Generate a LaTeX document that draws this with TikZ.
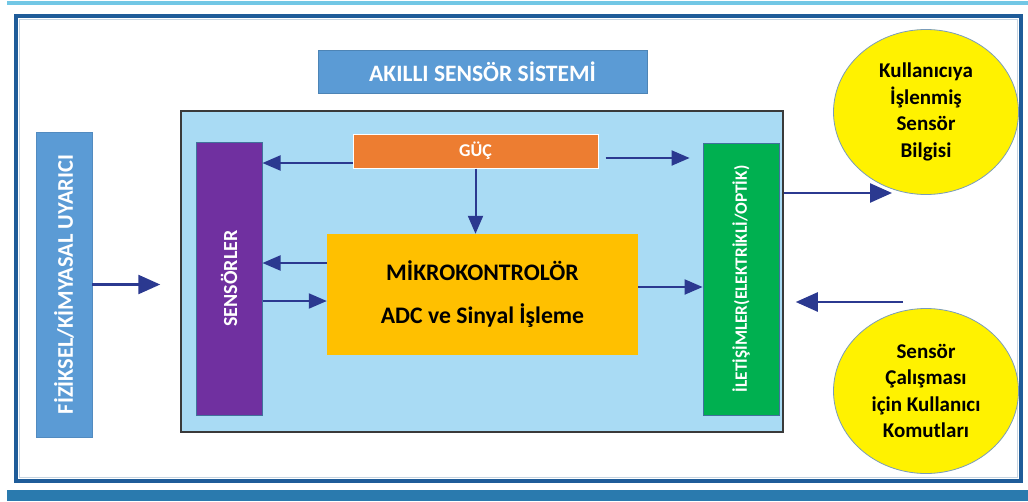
\documentclass[tikz,border=0pt]{standalone}
\usepackage{fontspec}
\setmainfont{Carlito}
\usetikzlibrary{arrows.meta,shapes.geometric}
\definecolor{titleblue}{HTML}{5B9BD5}
\definecolor{sysblue}{HTML}{A9DBF4}
\definecolor{sysborder}{HTML}{3A3A3A}
\definecolor{sensviolet}{HTML}{7030A0}
\definecolor{gucorange}{HTML}{ED7D31}
\definecolor{mcuyellow}{HTML}{FFC000}
\definecolor{iletgreen}{HTML}{00B050}
\definecolor{arrowblue}{HTML}{2B3990}
\definecolor{frameblue}{HTML}{1F5C99}
\definecolor{barblue}{HTML}{2A7AAE}
\definecolor{toplineblue}{HTML}{72C7E5}
\definecolor{thinblue}{HTML}{41719C}

\begin{document}
\begin{tikzpicture}[x=1pt,y=-1pt,box/.style={draw, inner sep=0pt, align=center, font=\bfseries},arr/.style={draw=arrowblue, line width=2pt, -{Triangle[length=18pt,width=15pt]}},bigarr/.style={arr, line width=2.5pt, -{Triangle[length=22pt,width=19pt]}},bubble/.style={ellipse, draw=thinblue!70, line width=0.8pt, fill=yellow, inner sep=0pt, minimum width=185pt, minimum height=165pt, align=center, font=\bfseries\fontsize{21pt}{26.5pt}\selectfont}]
\useasboundingbox (0,0) rectangle (1028,501);
\fill[toplineblue] (7,1) rectangle (1028,5);
\fill[barblue] (7,490) rectangle (1028,501);
\draw[frameblue, line width=3.5pt] (16,16) rectangle (1021,481);
\draw[thinblue!30, line width=1pt] (19.5,19.5) rectangle (1017.5,477.5);
\node[box, fill=titleblue, draw=titleblue!85!black, minimum width=329pt, minimum height=43pt, text=white, font=\bfseries\fontsize{23.5pt}{26pt}\selectfont] (title) at (482.5,71.5) {AKILLI SENSÖR SİSTEMİ};
\node[box, fill=sysblue, draw=sysborder, line width=1.5pt, minimum width=602pt, minimum height=321pt] (sys) at (482,271.5) {};
\node[box, fill=titleblue, draw=titleblue!90!black, minimum width=56pt, minimum height=305pt, text=white, font=\bfseries\fontsize{22.4pt}{24pt}\selectfont] (fiz) at (64,284.5) {\rotatebox{90}{FİZİKSEL/KİMYASAL UYARICI}};
\node[box, fill=sensviolet, draw=thinblue, line width=1pt, minimum width=66pt, minimum height=273pt, text=white, font=\bfseries\fontsize{20pt}{23pt}\selectfont] (sens) at (229,278.5) {\rotatebox{90}{SENSÖRLER}};
\node[box, fill=gucorange, draw=white, line width=1pt, minimum width=245pt, minimum height=34pt, text=white, font=\bfseries\fontsize{18pt}{20pt}\selectfont] (guc) at (475.5,151) {GÜÇ};
\node[box, fill=mcuyellow, draw=none, minimum width=311pt, minimum height=121pt, font=\bfseries\fontsize{23.7pt}{43pt}\selectfont] (mcu) at (482.5,294.5) {MİKROKONTROLÖR\\ADC ve Sinyal İşleme};
\node[box, fill=iletgreen, draw=thinblue, line width=0.8pt, minimum width=76pt, minimum height=272pt, text=white, font=\bfseries\fontsize{17.3pt}{20pt}\selectfont] (ilet) at (741,279) {\rotatebox{90}{İLETİŞİMLER(ELEKTRİKLİ/OPTİK)}};
\node[bubble] (out) at (926,112) {Kullanıcıya\\İşlenmiş\\Sensör\\Bilgisi};
\node[bubble] (cmd) at (926,391) {Sensör\\Çalışması\\için Kullanıcı\\Komutları};
\coordinate (outtip) at (892,193);
\coordinate (cmdstart) at (903,302);
\draw[bigarr, shorten >=20pt] (fiz.east) -- (fiz.east -| sys.west);
\draw[arr] ([yshift=-12pt]guc.west) -- ([yshift=-12pt]guc.west -| sens.east);
\draw[arr, shorten <=7pt, shorten >=13pt] ([yshift=-7pt]guc.east) -- ([yshift=-7pt]guc.east -| ilet.west);
\draw[arr] (guc.south) -- (guc.south |- mcu.north);
\draw[arr] ([yshift=31.5pt]mcu.west) -- ([yshift=31.5pt]mcu.west -| sens.east);
\draw[arr] ([yshift=-6.5pt]mcu.west -| sens.east) -- ([yshift=-6.5pt]mcu.west);
\draw[arr] ([yshift=7.5pt]mcu.east) -- ([yshift=7.5pt]mcu.east -| ilet.west);
\draw[bigarr] (outtip -| sys.east) -- (outtip);
\draw[bigarr, shorten >=12pt] (cmdstart) -- (cmdstart -| sys.east);
\end{tikzpicture}
\end{document}
